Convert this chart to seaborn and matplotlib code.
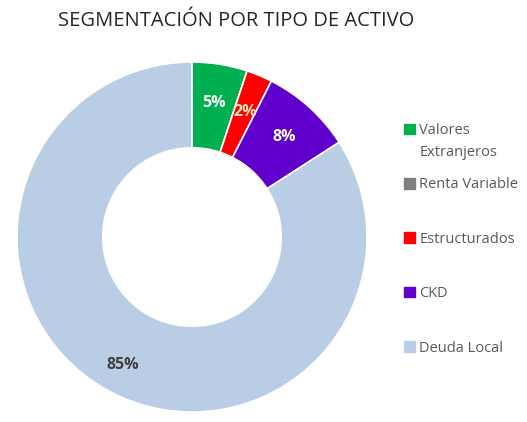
import matplotlib
matplotlib.use("Agg")
import matplotlib.pyplot as plt
import matplotlib.patches as mpatches
import numpy as np
import seaborn as sns

# data
categorias = ["Valores\nExtranjeros", "Renta Variable", "Estructurados", "CKD", "Deuda Local"]
porcentajes = [5.1, 0, 2.4, 8.4, 84.1]
etiquetas = ["5%", "", "2%", "8%", "85%"]
colores = ["#00B050", "#7F7F7F", "#FF0000", "#5F00CC", "#B9CDE5"]
color_etiqueta = ["white", "white", "#FFE9C0", "white", "#404040"]

sns.set_theme(style="white")
plt.rcParams["font.family"] = ["Open Sans", "DejaVu Sans"]

fig = plt.figure(figsize=(5.27, 4.22), dpi=100)
ax = fig.add_axes([17 / 527, 10 / 422, 350 / 527, 350 / 422])

wedges, _ = ax.pie(porcentajes, colors=colores, startangle=90, counterclock=False,
                   radius=1.0, wedgeprops=dict(width=0.49, edgecolor="white", linewidth=1.2))

# percentage labels in the middle of the ring
acum = 0
for v, txt, c in zip(porcentajes, etiquetas, color_etiqueta):
    if txt:
        mid = np.deg2rad(90 - (acum + v / 2) * 3.6)
        r = 0.82 if v > 50 else 0.785
        ax.text(r * np.cos(mid), r * np.sin(mid), txt, ha="center", va="center_baseline",
                color=c, fontsize=11.5, fontweight="bold")
    acum += v

ax.set_xlim(-1, 1)
ax.set_ylim(-1, 1)
ax.set_aspect("equal")
ax.axis("off")

fig.text(236 / 527, 1 - 21 / 422, "SEGMENTACIÓN POR TIPO DE ACTIVO", ha="center", va="center",
         fontsize=14.5, color="#262626")

# legend: first line of each label, second line of a wrapped label added under it
primeras = [c.split("\n")[0] for c in categorias]
handles = [mpatches.Patch(color=c) for c in colores]
leg = fig.legend(handles, primeras, loc="upper left", bbox_to_anchor=(404 / 527, 1 - 123 / 422),
                 frameon=False, fontsize=10.5, labelspacing=2.7, handlelength=0.75,
                 handleheight=0.75, handletextpad=0.3, borderpad=0, borderaxespad=0,
                 labelcolor="#595959")
fig.canvas.draw()
for cat, t in zip(categorias, leg.get_texts()):
    lineas = cat.split("\n")
    if len(lineas) > 1:
        bb = t.get_window_extent()
        for i, extra in enumerate(lineas[1:], start=1):
            fig.text(bb.x0 / fig.bbox.width, (bb.y0 + bb.height / 2 - 22 * i) / fig.bbox.height,
                     extra, ha="left", va="center", fontsize=10.5, color="#595959")

fig.savefig("out.png", dpi=100)
